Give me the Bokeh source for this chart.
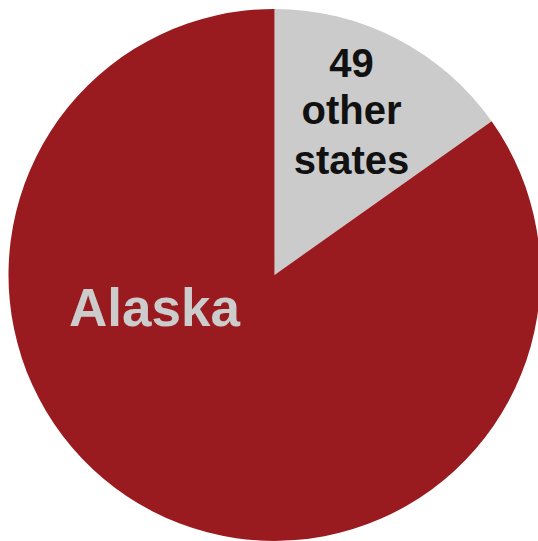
import math
from bokeh.plotting import figure
from bokeh.models import ColumnDataSource
from bokeh.core.properties import value
from bokeh.embed import file_html
from bokeh.resources import INLINE

labels = ["49 other states", "Alaska"]
shares = [15.2, 84.8]
colors = ["#cbcbcb", "#9a1b1f"]

W, H = 538, 541
cx, cy, r = 274, 266.6, 266

starts, ends = [], []
acc = 0.0
total = sum(shares)
for s in shares:
    starts.append(math.pi / 2 - 2 * math.pi * acc / total)
    acc += s
    ends.append(math.pi / 2 - 2 * math.pi * acc / total)

src = ColumnDataSource(dict(x=[cx] * 2, y=[cy] * 2, start=starts, end=ends, color=colors, label=labels))

p = figure(width=W, height=H, x_range=(0, W), y_range=(0, H), output_backend="svg",
           toolbar_location=None, min_border=0, outline_line_color=None)
p.axis.visible = False
p.grid.visible = False
p.background_fill_color = "white"
p.border_fill_color = "white"

p.wedge(x="x", y="y", radius=r, start_angle="start", end_angle="end", direction="clock",
        fill_color="color", line_color=None, source=src)

# labels
lines = ["49", "other", "states"]
p.text(x=[cx + 77] * 3, y=[cy + 212, cy + 165, cy + 115], text=lines,
       text_font=value("Liberation Sans"), text_font_style="bold", text_font_size="40px",
       text_color="#111111", text_align="center", text_baseline="middle")
p.text(x=[cx - 120], y=[cy - 33], text=["Alaska"],
       text_font=value("Liberation Sans"), text_font_style="bold", text_font_size="53px",
       text_color="#cccccc", text_align="center", text_baseline="middle")

open("out.html", "w").write(file_html(p, INLINE))
